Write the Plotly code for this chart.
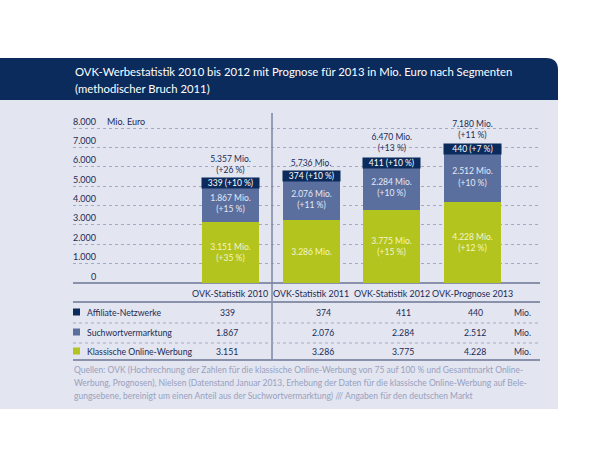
import plotly.graph_objects as go

# ---------------- data ----------------
categories = ["OVK-Statistik 2010", "OVK-Statistik 2011", "OVK-Statistik 2012", "OVK-Prognose 2013"]
klassische = [3151, 3286, 3775, 4228]
klassische_pct = [35, None, 15, 12]
suchwort = [1867, 2076, 2284, 2512]
suchwort_pct = [15, 11, 10, 10]
affiliate = [339, 374, 411, 440]
affiliate_pct = [10, 10, 10, 7]
total_pct = [26, None, 13, 11]
segment_names = ["Affiliate-Netzwerke", "Suchwortvermarktung", "Klassische Online-Werbung"]
y_ticks = [0, 1000, 2000, 3000, 4000, 5000, 6000, 7000, 8000]

title_lines = ["OVK-Werbestatistik 2010 bis 2012 mit Prognose für 2013 in Mio. Euro nach Segmenten",
               "(methodischer Bruch 2011)"]
source_lines = [
    "Quellen: OVK (Hochrechnung der Zahlen für die klassische Online-Werbung von 75 auf 100 % und Gesamtmarkt Online-",
    "Werbung, Prognosen), Nielsen (Datenstand Januar 2013, Erhebung der Daten für die klassische Online-Werbung auf Bele-",
    "gungsebene, bereinigt um einen Anteil aus der Suchwortvermarktung) /// Angaben für den deutschen Markt",
]

# ---------------- styles ----------------
W, H = 616, 473
FONT = "Lato"
NAVY = "#0b2b5c"
SLATE = "#5b6f9e"
GREEN = "#b3c41e"
PANEL = "#e3e5f0"
TXT = "#1c2b55"
GRID = "#a3a9c2"
RULE = "#8a91ab"


def fx(px):
    return px / W


def fy(py):
    return 1 - py / H


def de(n):
    return f"{n:,}".replace(",", ".")


def pct(p):
    return f"(+{p} %)" if p is not None else ""


totals = [a + b + c for a, b, c in zip(klassische, suchwort, affiliate)]

fig = go.Figure()

green_text = [de(v) + " Mio." + ("<br>" + pct(p) if p is not None else "") for v, p in zip(klassische, klassische_pct)]
slate_text = [de(v) + " Mio." + ("<br>" + pct(p) if p is not None else "") for v, p in zip(suchwort, suchwort_pct)]
navy_text = [de(v) + " " + pct(p) for v, p in zip(affiliate, affiliate_pct)]
total_text = [de(v) + " Mio." + ("<br>" + pct(p) if p is not None else "") for v, p in zip(totals, total_pct)]

bar_w = 0.707
BAR_PX = 57
for vals, col, txt, tcol in [
    (klassische, GREEN, green_text, "#f3f6c8"),
    (suchwort, SLATE, slate_text, "#e4e9f6"),
    (affiliate, NAVY, None, "#ffffff"),
]:
    fig.add_trace(go.Bar(
        x=categories, y=vals, width=bar_w,
        marker=dict(color=col, line=dict(width=0)),
        text=txt, textposition="inside" if txt else "none", insidetextanchor="middle",
        textangle=0, constraintext="none", cliponaxis=False,
        textfont=dict(family=FONT, size=8.5, color=tcol),
        hoverinfo="skip", showlegend=False,
    ))

fig.add_trace(go.Scatter(
    x=categories, y=totals, mode="markers+text", text=total_text,
    marker=dict(size=5, opacity=0),
    textposition="top center",
    textfont=dict(family=FONT, size=8.5, color=TXT),
    hoverinfo="skip", showlegend=False, cliponaxis=False,
))

shapes = []
# panel background
shapes.append(dict(type="rect", xref="paper", yref="paper", x0=fx(0), x1=fx(558), y0=fy(409), y1=fy(100),
                   fillcolor=PANEL, line=dict(width=0), layer="below"))
# header with rounded top-right corner
r = 12
path = (f"M {fx(0)},{fy(100)} L {fx(0)},{fy(58)} L {fx(558 - r)},{fy(58)} "
        f"Q {fx(558)},{fy(58)} {fx(558)},{fy(58 + r)} L {fx(558)},{fy(100)} Z")
shapes.append(dict(type="path", xref="paper", yref="paper", path=path, fillcolor=NAVY,
                   line=dict(width=0), layer="below"))
# vertical methodological break
shapes.append(dict(type="line", xref="x", yref="paper", x0=0.515, x1=0.515, y0=fy(360), y1=fy(113),
                   line=dict(color="#7d86a3", width=1.5)))
# table rules
for py, dash, w in [(302, "solid", 2), (323, "dot", 1), (343, "dot", 1), (360, "solid", 2)]:
    shapes.append(dict(type="line", xref="paper", yref="paper", x0=fx(73), x1=fx(540), y0=fy(py), y1=fy(py),
                       line=dict(color=RULE if dash == "solid" else GRID, width=w, dash=dash)))

annotations = []
# title
for i, line in enumerate(title_lines):
    annotations.append(dict(text=line, xref="paper", yref="paper", x=fx(73), y=fy(72 + 16 * i),
                            xanchor="left", yanchor="middle", showarrow=False,
                            font=dict(family=FONT, size=11.3, color="#ffffff")))
# y tick labels
for t in y_ticks:
    annotations.append(dict(text=de(t), xref="paper", yref="y", x=fx(98), y=t, yshift=7,
                            xanchor="right", yanchor="middle", showarrow=False,
                            font=dict(family=FONT, size=9, color=TXT)))
annotations.append(dict(text="Mio. Euro", xref="paper", yref="y", x=fx(105), y=y_ticks[-1], yshift=7,
                        xanchor="left", yanchor="middle", showarrow=False,
                        font=dict(family=FONT, size=9, color=TXT)))

# affiliate labels on navy label boxes (centred on the affiliate segment)
for c, k, s, a, t in zip(categories, klassische, suchwort, affiliate, navy_text):
    annotations.append(dict(text=t, xref="x", yref="y", x=c, y=k + s + a / 2, yshift=-1,
                            xanchor="center", yanchor="middle", showarrow=False,
                            width=BAR_PX, height=10, bgcolor=NAVY, borderpad=0,
                            font=dict(family=FONT, size=8.5, color="#ffffff")))

# category labels
for c in categories:
    annotations.append(dict(text=c, xref="x", yref="paper", x=c, y=fy(293),
                            xanchor="center", yanchor="middle", showarrow=False,
                            font=dict(family=FONT, size=8.9, color=TXT)))

# table
row_y = [312, 332, 351]
row_vals = [affiliate, suchwort, klassische]
row_cols = [NAVY, SLATE, GREEN]
col_x = [227, 323, 403, 475]
for name, vals, col, py in zip(segment_names, row_vals, row_cols, row_y):
    shapes.append(dict(type="rect", xref="paper", yref="paper", x0=fx(73), x1=fx(80), y0=fy(py + 3.5),
                       y1=fy(py - 3.5), fillcolor=col, line=dict(width=0)))
    annotations.append(dict(text=name, xref="paper", yref="paper", x=fx(85), y=fy(py),
                            xanchor="left", yanchor="middle", showarrow=False,
                            font=dict(family=FONT, size=8.7, color=TXT)))
    for v, cx in zip(vals, col_x):
        annotations.append(dict(text=de(v), xref="paper", yref="paper", x=fx(cx), y=fy(py),
                                xanchor="center", yanchor="middle", showarrow=False,
                                font=dict(family=FONT, size=8.7, color=TXT)))
    annotations.append(dict(text="Mio.", xref="paper", yref="paper", x=fx(522), y=fy(py),
                            xanchor="center", yanchor="middle", showarrow=False,
                            font=dict(family=FONT, size=8.7, color=TXT)))

# sources
for i, line in enumerate(source_lines):
    annotations.append(dict(text=line, xref="paper", yref="paper", x=fx(72), y=fy(370 + 13 * i),
                            xanchor="left", yanchor="middle", showarrow=False,
                            font=dict(family=FONT, size=8.5, color="#98a1bf")))

fig.update_layout(
    width=W, height=H, margin=dict(l=0, r=0, t=0, b=0),
    paper_bgcolor="#ffffff", plot_bgcolor="rgba(0,0,0,0)",
    barmode="stack", bargap=0,
    shapes=shapes, annotations=annotations,
    font=dict(family=FONT, color=TXT),
    xaxis=dict(domain=[fx(73), fx(540)], range=[-1.952, 3.837], type="category",
               showgrid=False, zeroline=False, showline=False, ticks="", showticklabels=False,
               fixedrange=True),
    yaxis=dict(domain=[fy(283), fy(112.5)], range=[0, 8800], tickvals=y_ticks,
               showticklabels=False, showgrid=True, gridcolor=GRID, griddash="dot", gridwidth=1,
               zeroline=True, zerolinecolor=RULE, zerolinewidth=2, showline=False, fixedrange=True),
)

fig.write_html("out.html", config={"displayModeBar": False},
               post_script="document.body.style.margin='0px';")
